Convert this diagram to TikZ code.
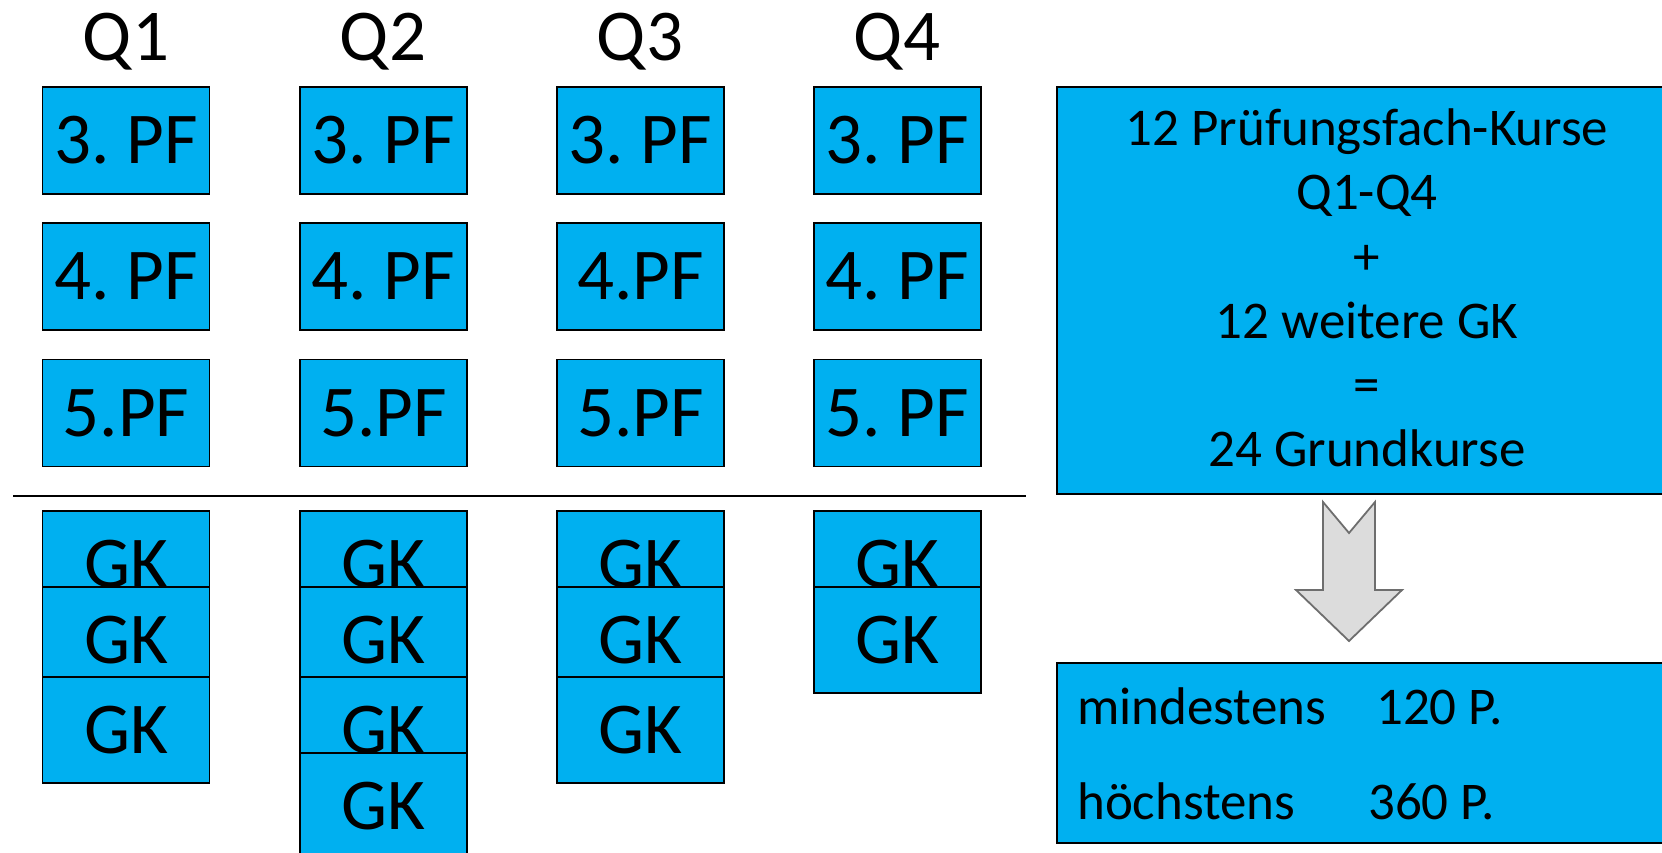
\documentclass[tikz,border=0pt]{standalone}
\usepackage{fontspec}
\setmainfont{Carlito}
\frenchspacing
\definecolor{boxblue}{HTML}{00B0F0}
\definecolor{arrowfill}{HTML}{DCDCDC}
\definecolor{arrowline}{HTML}{6E6E6E}
\begin{document}
\begin{tikzpicture}[x=1pt,y=-1pt,
  course/.style={draw=black, line width=1.3pt, fill=boxblue, minimum width=167pt,
    minimum height=107pt, inner sep=0pt, font=\fontsize{73}{88}\selectfont},
  gkbox/.style={course, minimum height=106pt},
  qlabel/.style={anchor=base, inner sep=0pt, font=\fontsize{73}{88}\selectfont},
  infobox/.style={draw=black, line width=1.3pt, fill=boxblue},
  infotext/.style={anchor=base, inner sep=0pt, font=\fontsize{53}{64}\selectfont},
  bigarrow/.style={draw=arrowline, line width=1.8pt, fill=arrowfill, line join=miter}]
\useasboundingbox (0,0) rectangle (1662,853);

% column headers
\node[qlabel] (h1) at (126,61) {Q1};
\node[qlabel] (h2) at (383,61) {Q2};
\node[qlabel] (h3) at (640,61) {Q3};
\node[qlabel] (h4) at (897,61) {Q4};

% Pruefungsfaecher
\node[course] (a1) at (126,140.5) {3. PF};
\node[course] (b1) at (126,276.5) {4. PF};
\node[course] (c1) at (126,413) {5.PF};
\node[course] (a2) at (383.5,140.5) {3. PF};
\node[course] (b2) at (383.5,276.5) {4. PF};
\node[course] (c2) at (383.5,413) {5.PF};
\node[course] (a3) at (640.5,140.5) {3. PF};
\node[course] (b3) at (640.5,276.5) {4.PF};
\node[course] (c3) at (640.5,413) {5.PF};
\node[course] (a4) at (897.5,140.5) {3. PF};
\node[course] (b4) at (897.5,276.5) {4. PF};
\node[course] (c4) at (897.5,413) {5. PF};

% separator
\coordinate (sepL) at (13,496);
\coordinate (sepR) at (1026,496);
\draw[line width=1.8pt] (sepL) -- (sepR);

% Grundkurse
\node[gkbox] (g11) at (126,564) {GK};
\node[gkbox] (g12) at (126,640) {GK};
\node[gkbox] (g13) at (126,730) {GK};
\node[gkbox] (g21) at (383.5,564) {GK};
\node[gkbox] (g22) at (383.5,640) {GK};
\node[gkbox] (g23) at (383.5,730) {GK};
\node[gkbox] (g24) at (383.5,806) {GK};
\node[gkbox] (g31) at (640.5,564) {GK};
\node[gkbox] (g32) at (640.5,640) {GK};
\node[gkbox] (g33) at (640.5,730) {GK};
\node[gkbox] (g41) at (897.5,564) {GK};
\node[gkbox] (g42) at (897.5,640) {GK};

% summary box
\draw[infobox] (1057,87) rectangle (1680,494);
\node[infotext] (s1) at (1367,146) {12 Prüfungsfach-Kurse};
\node[infotext] (s2) at (1367,210) {Q1-Q4};
\node[infotext] (s3) at (1367,274) {+};
\node[infotext] (s4) at (1367,338) {12 weitere GK};
\node[infotext] (s5) at (1367,402) {=};
\node[infotext] (s6) at (1367,466) {24 Grundkurse};

% block arrow
\draw[bigarrow] (1323,502) -- (1349,533) -- (1375,502) -- (1375,590) -- (1402,590)
  -- (1349,641) -- (1296,590) -- (1323,590) -- cycle;

% result box
\draw[infobox] (1057,663) rectangle (1680,843);
\node[infotext, anchor=base west] (m1) at (1077,724) {mindestens};
\node[infotext, anchor=base west] (m2) at (1376,724) {120 P.};
\node[infotext, anchor=base west] (m3) at (1077,819) {höchstens};
\node[infotext, anchor=base west] (m4) at (1368,819) {360 P.};
\end{tikzpicture}
\end{document}
